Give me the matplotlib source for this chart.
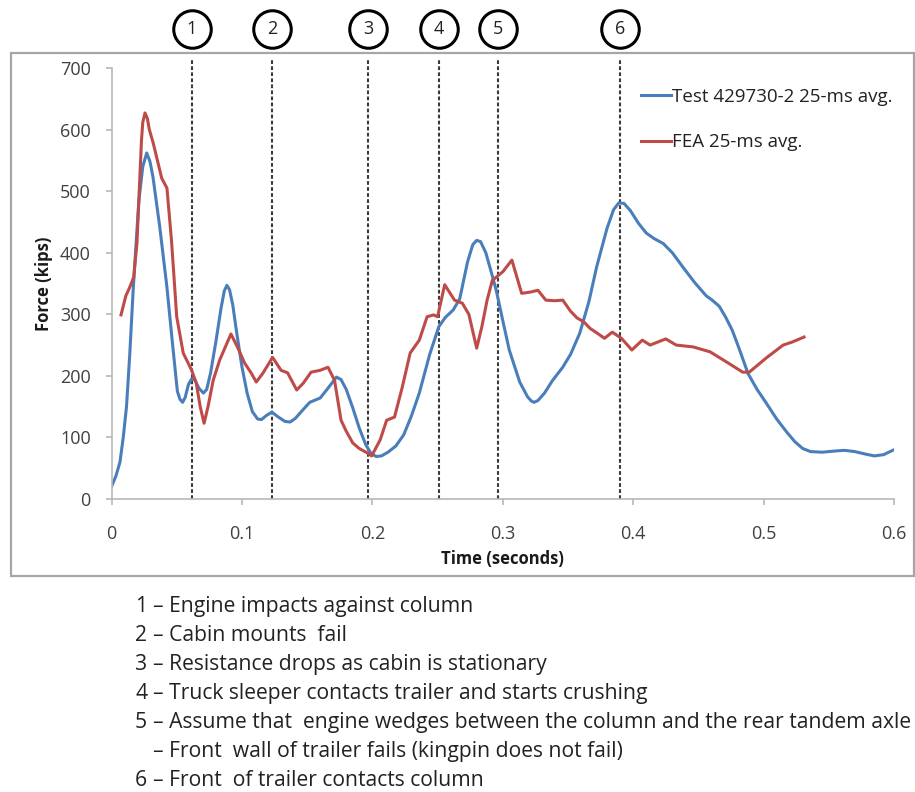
import matplotlib
matplotlib.use("Agg")
import matplotlib.pyplot as plt
from matplotlib.patches import Rectangle
import matplotlib.transforms as mtransforms

plt.rcParams['font.family'] = ['Open Sans', 'DejaVu Sans']

# ------------------------------------------------------
# data
# ------------------------------------------------------
test_t = [0, 0.0035, 0.0065, 0.009, 0.0115, 0.014, 0.0165, 0.019, 0.021, 0.024,
          0.027, 0.0295, 0.0318, 0.037, 0.0425, 0.0465, 0.0505, 0.0525, 0.0545, 0.0565,
          0.059, 0.0617, 0.064, 0.067, 0.0705, 0.073, 0.076, 0.080, 0.084, 0.0865,
          0.0885, 0.0905, 0.093, 0.096, 0.100, 0.104, 0.108, 0.112, 0.115, 0.119,
          0.123, 0.128, 0.133, 0.137, 0.141, 0.146, 0.152, 0.160, 0.166, 0.1725,
          0.176, 0.180, 0.185, 0.190, 0.195, 0.199, 0.203, 0.207, 0.212, 0.218,
          0.224, 0.230, 0.236, 0.244, 0.251, 0.256, 0.262, 0.267, 0.273, 0.277,
          0.280, 0.283, 0.287, 0.291, 0.295, 0.300, 0.305, 0.313, 0.319, 0.322,
          0.324, 0.327, 0.332, 0.338, 0.346, 0.352, 0.359, 0.366, 0.372, 0.380,
          0.385, 0.389, 0.393, 0.398, 0.404, 0.410, 0.416, 0.423, 0.430, 0.438,
          0.447, 0.456, 0.460, 0.466, 0.471, 0.476, 0.482, 0.488, 0.495, 0.502,
          0.510, 0.518, 0.524, 0.530, 0.536, 0.545, 0.555, 0.562, 0.570, 0.578,
          0.585, 0.592, 0.600]
test_f = [20, 38, 60, 100, 150, 235, 335, 420, 485, 540,
          562, 548, 523, 442, 344, 258, 175, 162, 157, 165,
          186, 196, 193, 180, 172, 178, 205, 255, 310, 338,
          347, 340, 315, 270, 215, 172, 142, 130, 129, 136,
          141, 133, 126, 125, 131, 143, 157, 164, 180, 198,
          194, 178, 148, 115, 88, 74, 69, 70, 76, 86,
          104, 135, 172, 235, 280, 295, 307, 325, 385, 413,
          420, 418, 400, 370, 339, 290, 242, 190, 166, 159,
          157, 160, 172, 192, 214, 235, 269, 320, 377, 440,
          470, 481, 480, 468, 448, 432, 423, 415, 400, 377,
          352, 330, 324, 313, 295, 274, 240, 204, 178, 156,
          130, 108, 93, 82, 77, 76, 78, 79, 77, 73,
          70, 72, 80]

fea_t = [0.0073, 0.011, 0.014, 0.017, 0.0195, 0.023, 0.024, 0.0257, 0.0275, 0.029,
         0.032, 0.0385, 0.0425, 0.046, 0.050, 0.055, 0.0615, 0.065, 0.068, 0.071,
         0.074, 0.078, 0.083, 0.0916, 0.097, 0.102, 0.107, 0.111, 0.116, 0.1235,
         0.130, 0.135, 0.142, 0.147, 0.153, 0.160, 0.166, 0.171, 0.176, 0.180,
         0.185, 0.190, 0.196, 0.1995, 0.206, 0.211, 0.217, 0.223, 0.229, 0.236,
         0.242, 0.247, 0.250, 0.2555, 0.263, 0.269, 0.274, 0.280, 0.284, 0.288,
         0.292, 0.300, 0.307, 0.3145, 0.321, 0.327, 0.333, 0.340, 0.346, 0.352,
         0.357, 0.362, 0.367, 0.372, 0.378, 0.384, 0.391, 0.399, 0.407, 0.413,
         0.419, 0.425, 0.433, 0.446, 0.459, 0.472, 0.484, 0.489, 0.502, 0.515,
         0.522, 0.531]
fea_f = [299, 330, 344, 360, 415, 583, 612, 627, 618, 600,
         578, 521, 505, 420, 296, 237, 209, 188, 150, 123,
         150, 193, 226, 268, 245, 221, 205, 190, 204, 230,
         209, 205, 177, 188, 206, 209, 214, 193, 128, 110,
         91, 82, 75, 70, 96, 128, 133, 182, 237, 258,
         296, 299, 296, 348, 323, 318, 300, 245, 280, 323,
         355, 369, 388, 334, 336, 339, 323, 322, 323, 305,
         294, 288, 277, 270, 261, 271, 261, 242, 258, 250,
         255, 260, 250, 247, 239, 222, 206, 206, 229, 250,
         255, 263]

event_t = [0.0617, 0.123, 0.1966, 0.251, 0.296, 0.390]
event_labels = ["1", "2", "3", "4", "5", "6"]

notes_num = ["1", "2", "3", "4", "5", "", "6"]
notes_text = ["– Engine impacts against column",
              "– Cabin mounts  fail",
              "– Resistance drops as cabin is stationary",
              "– Truck sleeper contacts trailer and starts crushing",
              "– Assume that  engine wedges between the column and the rear tandem axle",
              "– Front  wall of trailer fails (kingpin does not fail)",
              "– Front  of trailer contacts column"]

# ------------------------------------------------------
# figure
# ------------------------------------------------------
W, H = 915, 792
fig = plt.figure(figsize=(W / 100, H / 100), dpi=100)
ax = fig.add_axes([111.5 / W, 1 - 499 / H, 782.5 / W, 431 / H])

# grey frame round the chart area
fig.patches.append(Rectangle((11 / W, 1 - 576 / H), 903 / W, 523 / H,
                             transform=fig.transFigure, fill=False,
                             edgecolor="#a6a6a6", linewidth=1.6))

ax.plot(test_t, test_f, color="#4a7ebb", linewidth=2.2, solid_joinstyle="round",
        label="Test 429730-2 25-ms avg.")
ax.plot(fea_t, fea_f, color="#be4b48", linewidth=2.2, solid_joinstyle="round",
        label="FEA 25-ms avg.")

ax.set_xlim(0, 0.6)
ax.set_ylim(0, 700)
ax.set_xticks([0, 0.1, 0.2, 0.3, 0.4, 0.5, 0.6])
ax.set_xticklabels(["0", "0.1", "0.2", "0.3", "0.4", "0.5", "0.6"])
ax.set_yticks(range(0, 701, 100))

for s in ["top", "right"]:
    ax.spines[s].set_visible(False)
for s in ["left", "bottom"]:
    ax.spines[s].set_color("#b8b8b8")
    ax.spines[s].set_linewidth(1.2)
ax.tick_params(axis="both", colors="#b8b8b8", labelcolor="#404040",
               labelsize=13, length=4, width=1.2)
ax.tick_params(axis="x", pad=15)
ax.tick_params(axis="y", pad=11)

ax.set_xlabel("Time (seconds)", fontsize=12, fontweight="bold", color="#1a1a1a")
ax.set_ylabel("Force (kips)", fontsize=12, fontweight="bold", color="#1a1a1a")
ax.xaxis.set_label_coords(0.5, -0.118)
ax.yaxis.set_label_coords(-0.075, 0.5)

# event markers: dashed lines with numbered circles above
trans = mtransforms.blended_transform_factory(ax.transData, ax.transAxes)
for t, lab in zip(event_t, event_labels):
    ax.plot([t, t], [0, 1.024], transform=trans, color="#3a3a3a", linewidth=1.5,
            linestyle=(0, (1.8, 1.1)), clip_on=False, zorder=1)
    ax.plot([t], [1.0905], transform=trans, marker="o", markersize=27,
            markerfacecolor="white", markeredgecolor="black", markeredgewidth=2.2,
            clip_on=False)
    ax.text(t, 1.0905, lab, transform=trans, ha="center", va="center",
            fontsize=13, color="#222222")

ax.legend(loc="upper left", bbox_to_anchor=(641 / W, 1 - 88 / H),
          bbox_transform=fig.transFigure, frameon=False, fontsize=13.5,
          handlelength=1.6, handletextpad=0.05, labelspacing=1.45,
          borderpad=0, borderaxespad=0, labelcolor="#222222")

# notes under the chart (baseline aligned so number and text line up)
for i, (num, txt) in enumerate(zip(notes_num, notes_text)):
    y = 1 - (612 + 29 * i) / H
    if num:
        fig.text(135 / W, y, num, fontsize=15.2, va="baseline", ha="left", color="#222222")
    fig.text(153 / W, y, txt, fontsize=15.2, va="baseline", ha="left", color="#222222")

fig.savefig("out.png", dpi=100)
